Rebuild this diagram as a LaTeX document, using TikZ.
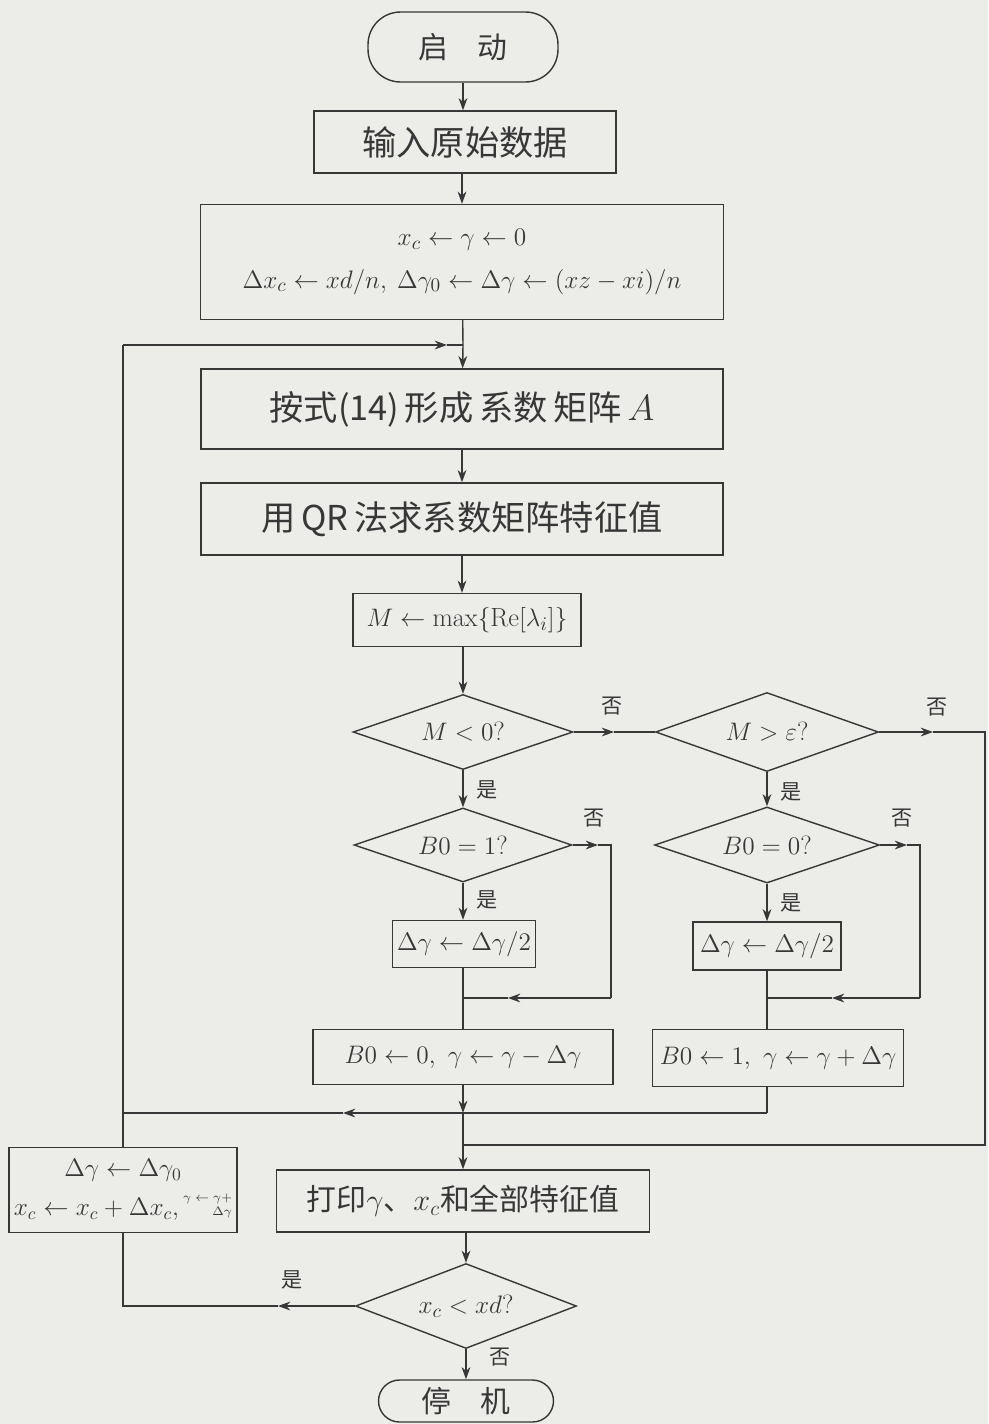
\documentclass[tikz,border=0pt]{standalone}
\usepackage{fontspec}
\newfontfamily\cjk{Noto Sans CJK SC}
\usetikzlibrary{shapes.geometric,arrows.meta}
\definecolor{paper}{RGB}{236,236,233}
\definecolor{ink}{RGB}{55,55,55}
\begin{document}
\begin{tikzpicture}[x=0.02cm,y=-0.02cm,
  line/.style={draw=ink,line width=0.8pt},
  arr/.style={line,-{Stealth[length=7pt,width=5pt]}},
  box/.style={draw=ink,line width=0.8pt,rectangle,inner sep=2pt,align=center,text=ink},
  dec/.style={draw=ink,line width=0.8pt,diamond,aspect=2.9,inner sep=0pt,align=center,text=ink,font=\fontsize{15}{18}\selectfont},
  term/.style={draw=ink,line width=0.8pt,rectangle,align=center,text=ink},
  lab/.style={font=\cjk\fontsize{12}{12}\selectfont,text=ink,inner sep=0pt},
  big/.style={font=\cjk\fontsize{17}{20}\selectfont},
  huge/.style={font=\cjk\fontsize{19.5}{22}\selectfont}
]
\fill[paper] (0,0) rectangle (988,1424);
\useasboundingbox (0,0) rectangle (988,1424);

% nodes
\node[term,rounded corners=0.65cm,minimum width=3.8cm,minimum height=1.4cm,big] (start) at (463,47) {启\quad 动};
\node[box,minimum width=6.04cm,minimum height=1.24cm,huge] (in) at (465,142) {输入原始数据};
\node[box,minimum width=10.46cm,minimum height=2.3cm,font=\cjk\fontsize{15.5}{18}\selectfont] (init) at (462,262)
  {$x_c\leftarrow\gamma\leftarrow 0$\\[6pt]
   $\Delta x_c\leftarrow xd/n,\ \Delta\gamma_0\leftarrow\Delta\gamma\leftarrow(xz-xi)/n$};
\node[box,minimum width=10.44cm,minimum height=1.6cm,huge] (form) at (462,409) {按式(14)\,形成\,系数\,矩阵\,$A$};
\node[box,minimum width=10.44cm,minimum height=1.44cm,huge] (qr) at (462,519) {用\,QR\,法求系数矩阵特征值};
\node[box,minimum width=4.56cm,minimum height=1.06cm,font=\fontsize{15}{18}\selectfont] (maxM) at (467,620)
  {$M\leftarrow\max\{\mathrm{Re}[\lambda_i]\}$};
\node[dec,minimum width=4.4cm,minimum height=1.5cm] (d1) at (463,732) {$M<0$?};
\node[dec,minimum width=4.46cm,minimum height=1.58cm] (d2) at (767,732) {$M>\varepsilon$?};
\node[dec,minimum width=4.36cm,minimum height=1.48cm] (d3) at (463,845) {$B0=1$?};
\node[dec,minimum width=4.5cm,minimum height=1.52cm] (d4) at (767,845) {$B0=0$?};
\node[box,minimum width=2.86cm,minimum height=0.94cm,font=\fontsize{14}{17}\selectfont] (h1) at (464,944) {$\Delta\gamma\leftarrow\Delta\gamma/2$};
\node[box,minimum width=2.96cm,minimum height=0.96cm,font=\fontsize{14}{17}\selectfont] (h2) at (767,946) {$\Delta\gamma\leftarrow\Delta\gamma/2$};
\node[box,minimum width=6.0cm,minimum height=1.1cm,font=\fontsize{15}{18}\selectfont] (b9) at (463,1057) {$B0\leftarrow 0,\ \gamma\leftarrow\gamma-\Delta\gamma$};
\node[box,minimum width=5.02cm,minimum height=1.14cm,font=\fontsize{15}{18}\selectfont] (b10) at (778,1058) {$B0\leftarrow 1,\ \gamma\leftarrow\gamma+\Delta\gamma$};
\node[box,minimum width=4.56cm,minimum height=1.7cm,inner sep=1pt,font=\fontsize{14}{17}\selectfont] (left) at (123,1190)
  {$\Delta\gamma\leftarrow\Delta\gamma_0$\\[5pt]
   $x_c\leftarrow x_c+\Delta x_c,$\,{\scriptsize\begin{tabular}[b]{@{}r@{}}$\gamma\leftarrow\gamma+$\\$\Delta\gamma$\end{tabular}}};
\node[box,minimum width=7.46cm,minimum height=1.24cm,big] (print) at (463,1201) {打印$\gamma$、$x_c$和全部特征值};
\node[dec,minimum width=4.42cm,minimum height=1.7cm] (d5) at (466,1306) {$x_c<xd$?};
\node[term,rounded corners=0.42cm,minimum width=3.5cm,minimum height=0.84cm,big] (stop) at (466,1401) {停\quad 机};

% coordinates
\coordinate (j1) at (463,345);
\coordinate (la) at (447,345);
\coordinate (lt) at (123,345);
\coordinate (lb) at (123,1113);
\coordinate (bj) at (463,1113);
\coordinate (ba) at (343,1113);
\coordinate (b10s) at (767,1113);
\coordinate (m0) at (614,732);
\coordinate (r0) at (933,732);
\coordinate (r1) at (985,732);
\coordinate (r2) at (985,1145);
\coordinate (r3) at (463,1145);
\coordinate (n0) at (598,845);
\coordinate (n1) at (611,845);
\coordinate (n2) at (611,998);
\coordinate (n3) at (508,998);
\coordinate (n4) at (463,998);
\coordinate (p0) at (907,845);
\coordinate (p1) at (920,845);
\coordinate (p2) at (920,998);
\coordinate (p3) at (832,998);
\coordinate (p4) at (767,998);
\coordinate (q0) at (278,1306);
\coordinate (q1) at (123,1306);

% connectors
\draw[arr] (start) -- (start |- in.north);
\draw[arr] (in.south -| init.north) -- (init.north);
\draw[line] (init) -- (j1);
\draw[arr] (j1) -- (form);
\draw[arr] (form) -- (qr);
\draw[arr] (qr.south) -- (qr.south |- maxM.north);
\draw[arr] (maxM.south -| d1.north) -- (d1.north);
\draw[arr] (d1.east) -- (m0);
\draw[line] (m0) -- (d2.west);
\draw[arr] (d2.east) -- (r0);
\draw[line] (r0) -- (r1) -- (r2) -- (r3);
\draw[arr] (d1) -- (d3);
\draw[arr] (d2) -- (d4);
\draw[arr] (d3) -- (d3 |- h1.north);
\draw[arr] (d4) -- (h2);
\draw[arr] (d3.east) -- (n0);
\draw[line] (n0) -- (n1) -- (n2);
\draw[arr] (n2) -- (n3);
\draw[line] (n3) -- (n4);
\draw[arr] (d4.east) -- (p0);
\draw[line] (p0) -- (p1) -- (p2);
\draw[arr] (p2) -- (p3);
\draw[line] (p3) -- (p4);
\draw[line] (h1.south -| b9.north) -- (b9.north);
\draw[line] (h2.south) -- (h2.south |- b10.north);
\draw[arr] (b9) -- (bj);
\draw[arr] (bj) -- (print);
\draw[line] (b10.south -| b10s) -- (b10s);
\draw[arr] (b10s) -- (ba);
\draw[line] (ba) -- (lb);
\draw[line] (left.north) -- (lt);
\draw[arr] (lt) -- (la);
\draw[line] (la) -- (j1);
\draw[arr] (print.south -| d5.north) -- (d5.north);
\draw[arr] (d5.west) -- (q0);
\draw[line] (q0) -- (q1) -- (left.south);
\draw[arr] (d5) -- (stop);

% labels
\node[lab] (l1) at (612,706) {否};
\node[lab] (l2) at (937,707) {否};
\node[lab] (l3) at (487,790) {是};
\node[lab] (l4) at (791,792) {是};
\node[lab] (l5) at (594,818) {否};
\node[lab] (l6) at (902,818) {否};
\node[lab] (l7) at (487,900) {是};
\node[lab] (l8) at (791,903) {是};
\node[lab] (l9) at (292,1280) {是};
\node[lab] (l10) at (500,1357) {否};
\end{tikzpicture}
\end{document}
